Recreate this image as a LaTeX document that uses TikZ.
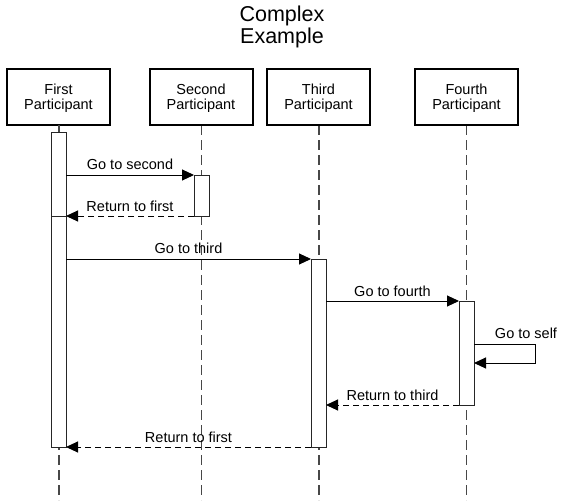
\documentclass[tikz,border=0pt]{standalone}
\usepackage{fontspec}
\setmainfont{Liberation Sans}
\usetikzlibrary{arrows.meta}
\begin{document}
\begin{tikzpicture}[x=1pt,y=-1pt,
  actor/.style={draw=black,line width=2pt,fill=white,minimum width=103pt,minimum height=56pt,inner sep=0pt,align=center,text depth=0pt,font=\fontsize{14.5}{15}\selectfont},
  life/.style={draw=black!72,line width=1.7pt,dash pattern=on 10pt off 5pt},
  bar/.style={draw=black!85,line width=1pt,fill=white},
  msg/.style={draw=black,line width=1pt,-{Triangle[length=12pt,width=11pt]}},
  ret/.style={msg,dash pattern=on 6pt off 4pt},
  lbl/.style={font=\fontsize{14.5}{15}\selectfont,inner sep=0pt}]
\useasboundingbox (0,0) rectangle (564,500);
% title
\node[align=center,font=\fontsize{21.5}{22}\selectfont] (title) at (282,27) {Complex\\Example};
% lifelines
\coordinate (l1t) at (59,125); \coordinate (l1b) at (59,500);
\coordinate (l2t) at (201.5,125); \coordinate (l2b) at (201.5,500);
\coordinate (l3t) at (319,125); \coordinate (l3b) at (319,500);
\coordinate (l4t) at (466.5,125); \coordinate (l4b) at (466.5,500);
\draw[life] (l1t) -- (l1b);
\draw[life] (l2t) -- (l2b);
\draw[life] (l3t) -- (l3b);
\draw[life] (l4t) -- (l4b);
% actors
\node[actor] (p1) at (58.5,97) {First\\Participant};
\node[actor] (p2) at (201,97) {Second\\Participant};
\node[actor] (p3) at (318.5,97) {Third\\Participant};
\node[actor] (p4) at (466.5,97) {Fourth\\Participant};
\draw[black!72,line width=1.7pt] (59,125) -- (59,132);
% activation bars
\draw[bar] (51,132) rectangle (66,216);
\draw[bar] (51,216) rectangle (66,447);
\draw[bar] (194,175) rectangle (209,216);
\draw[bar] (311,259) rectangle (326,447);
\draw[bar] (459,301) rectangle (474,405);
% anchors
\coordinate (a1) at (66,175); \coordinate (b1) at (194,175);
\coordinate (a2) at (194,216); \coordinate (b2) at (66,216);
\coordinate (a3) at (66,259); \coordinate (b3) at (311,259);
\coordinate (a4) at (326,301); \coordinate (b4) at (459,301);
\coordinate (s1) at (474,344); \coordinate (s2) at (535,344); \coordinate (s3) at (535,363); \coordinate (s4) at (474,363);
\coordinate (a6) at (459,405); \coordinate (b6) at (326,405);
\coordinate (a7) at (311,447); \coordinate (b7) at (66,447);
% messages
\draw[msg] (a1) -- (b1);
\node[lbl] (m1) at (130,164) {Go to second};
\draw[ret] (a2) -- (b2);
\node[lbl] (m2) at (130,206) {Return to first};
\draw[msg] (a3) -- (b3);
\node[lbl] (m3) at (188.5,248) {Go to third};
\draw[msg] (a4) -- (b4);
\node[lbl] (m4) at (392.5,291) {Go to fourth};
\draw[msg] (s1) -- (s2) -- (s3) -- (s4);
\node[lbl] (m5) at (526,333) {Go to self};
\draw[ret] (a6) -- (b6);
\node[lbl] (m6) at (392.5,395) {Return to third};
\draw[ret] (a7) -- (b7);
\node[lbl] (m7) at (188.5,437) {Return to first};
\end{tikzpicture}
\end{document}
